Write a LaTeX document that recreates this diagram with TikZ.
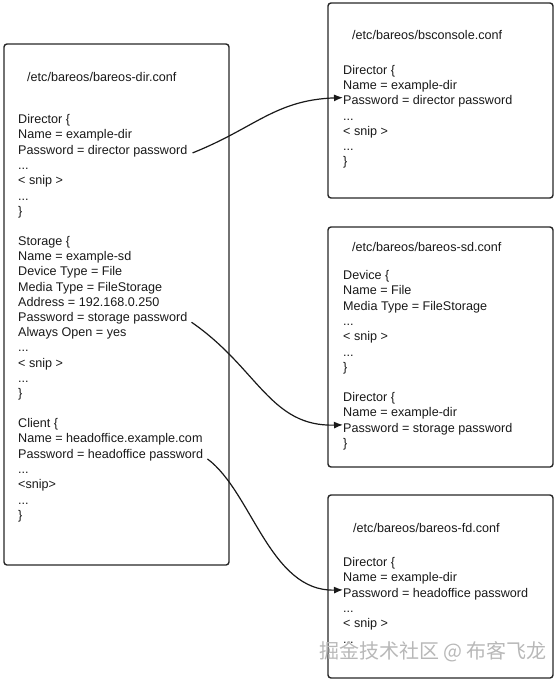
\documentclass[tikz,border=0pt]{standalone}
\usepackage{fontspec}
\setmainfont{Liberation Sans}
\newfontfamily\cjkfont{Noto Sans CJK SC}
\usetikzlibrary{arrows.meta}
\newcommand\myddd{...}
\begin{document}
\begin{tikzpicture}[x=1pt,y=-1pt,
  conf/.style={draw=black!85,line width=1.4pt,rounded corners=3pt},
  txt/.style={anchor=base west,inner sep=0pt,font=\fontsize{12.6}{15}\selectfont,text=black!90},
  link/.style={draw=black!90,line width=1.2pt,-{Latex[length=9pt,width=7pt]}},
  wm/.style={font=\cjkfont\fontsize{20}{24}\selectfont,text=black!28,inner sep=0pt}]
\useasboundingbox (0,0) rectangle (558,681);
% boxes
\draw[conf] (4,44) rectangle (229,565);
\draw[conf] (328,3) rectangle (553,198);
\draw[conf] (328,227) rectangle (553,467);
\draw[conf] (328,495) rectangle (553,678);
% left box
\node[txt] (t0) at (27,81.5) {/etc/bareos/bareos-dir.conf};
\foreach \myline [count=\i] in {Director \{,Name = example-dir,Password = director password,\myddd,< snip >,\myddd,\}}
  \node[txt] (d\i) at (18,{123.5+(\i-1)*15.33}) {\myline};
\foreach \myline [count=\i] in {Storage \{,Name = example-sd,Device Type = File,Media Type = FileStorage,Address = 192.168.0.250,Password = storage password,Always Open = yes,\myddd,< snip >,\myddd,\}}
  \node[txt] (s\i) at (18,{245.5+(\i-1)*15.2}) {\myline};
\foreach \myline [count=\i] in {Client \{,Name = headoffice.example.com,Password = headoffice password,\myddd,<snip>,\myddd,\}}
  \node[txt] (c\i) at (18,{427.5+(\i-1)*15.33}) {\myline};
% box 1
\node[txt] (t1) at (352,39.5) {/etc/bareos/bsconsole.conf};
\foreach \myline [count=\i] in {Director \{,Name = example-dir,Password = director password,\myddd,< snip >,\myddd,\}}
  \node[txt] (b\i) at (343,{74.5+(\i-1)*15.17}) {\myline};
% box 2
\node[txt] (t2) at (352,251.5) {/etc/bareos/bareos-sd.conf};
\foreach \myline [count=\i] in {Device \{,Name = File,Media Type = FileStorage,\myddd,< snip >,\myddd,\}}
  \node[txt] (e\i) at (343,{279.5+(\i-1)*15.3}) {\myline};
\foreach \myline [count=\i] in {Director \{,Name = example-dir,Password = storage password,\}}
  \node[txt] (f\i) at (343,{401.5+(\i-1)*15.3}) {\myline};
% box 3
\node[txt] (t3) at (353,532.5) {/etc/bareos/bareos-fd.conf};
\foreach \myline [count=\i] in {Director \{,Name = example-dir,Password = headoffice password,\myddd,< snip >,\myddd}
  \node[txt] (g\i) at (343,{566.5+(\i-1)*15.3}) {\myline};
% connectors
\draw[link] ([xshift=5pt,yshift=-2pt]d3.east) .. controls (255,128) and (275,100) .. ([yshift=4pt]b3.west);
\draw[link] ([xshift=4pt,yshift=-4pt]s6.east) .. controls (258,368) and (270,427) .. ([yshift=4pt]f3.west);
\draw[link] ([xshift=4pt,yshift=-4pt]c3.east) .. controls (252,492) and (270,592) .. ([yshift=4pt]g3.west);
% watermark
\node[wm] (wm) at (433,652) {掘金技术社区 @ 布客飞龙};
\end{tikzpicture}
\end{document}
